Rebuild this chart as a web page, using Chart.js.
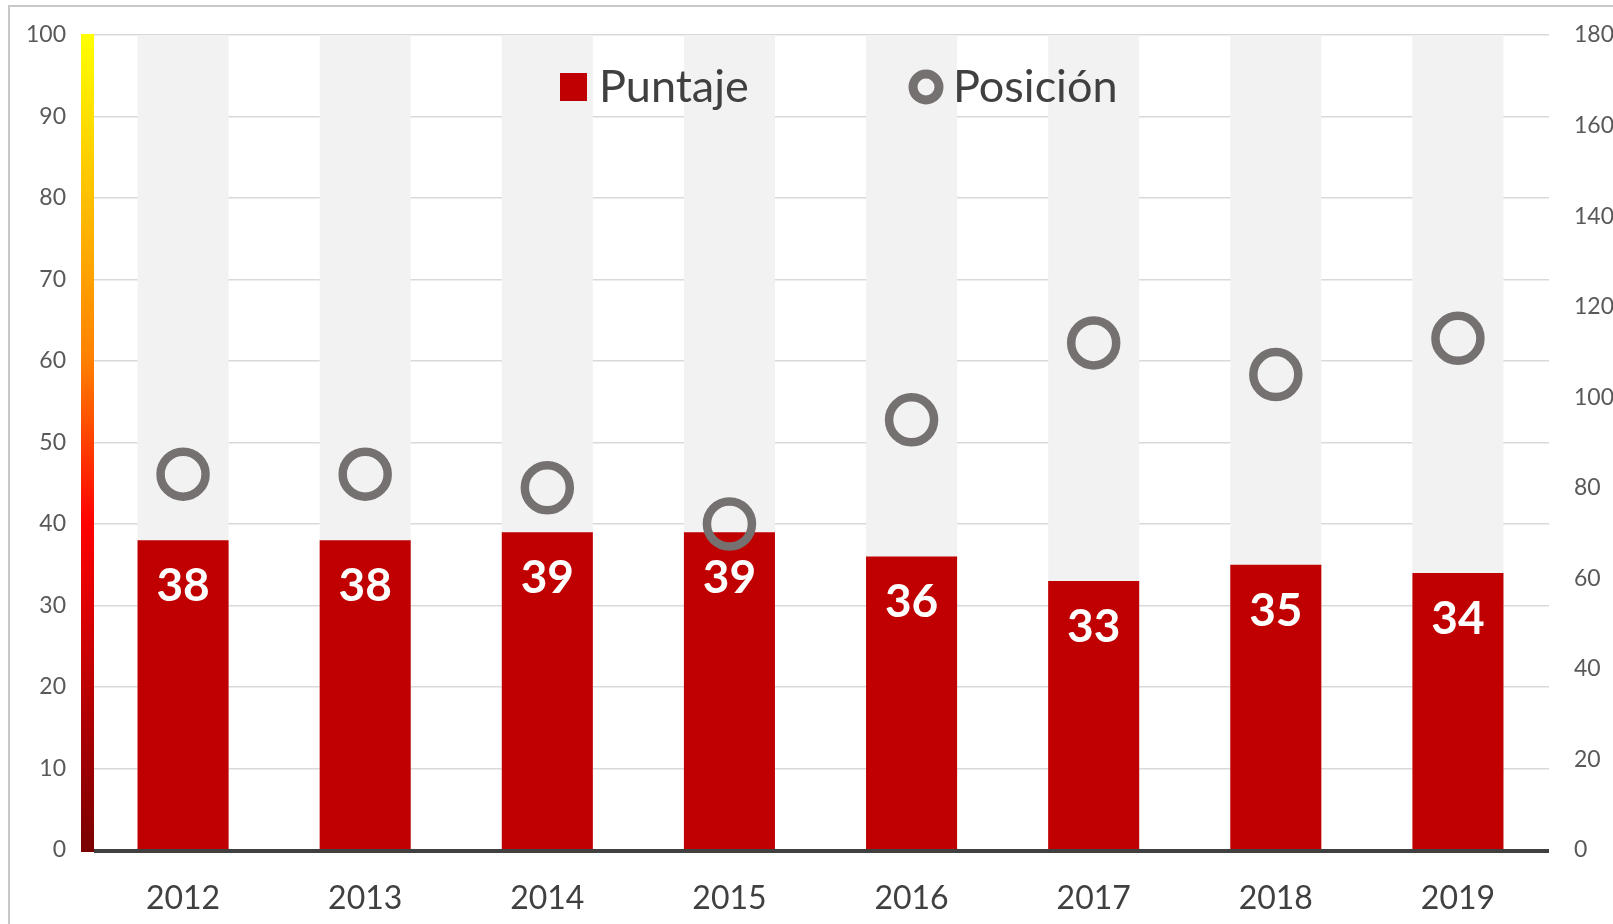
<!DOCTYPE html>
<html>
<head>
<meta charset="utf-8">
<script src="https://cdn.jsdelivr.net/npm/chart.js@4.4.1/dist/chart.umd.min.js"></script>
<style>
  html, body { margin: 0; padding: 0; background: #ffffff; }
  canvas { display: block; }
</style>
</head>
<body>
<canvas id="c" width="1613" height="924"></canvas>
<script>
// ---- data ----
const years = ['2012', '2013', '2014', '2015', '2016', '2017', '2018', '2019'];
const puntaje = [38, 38, 39, 39, 36, 33, 35, 34];
const posicion = [83, 83, 80, 72, 95, 112, 105, 113];
const leftTicks = [0, 10, 20, 30, 40, 50, 60, 70, 80, 90, 100];
const rightTicks = [0, 20, 40, 60, 80, 100, 120, 140, 160, 180];
const leftMax = 100;
const rightMax = 180;
const seriesNames = ['Puntaje', 'Posición'];

const FONT = 'Lato, "Open Sans", "DejaVu Sans", sans-serif';
const RED = '#C00000';
const RING = '#767171';

const framePlugin = {
  id: 'frame',
  beforeDraw(chart) {
    const ctx = chart.ctx;
    ctx.save();
    ctx.strokeStyle = '#C8C8C8';
    ctx.lineWidth = 2;
    ctx.strokeRect(9, 6, 1700, 1000);
    ctx.restore();
  },
  beforeDatasetsDraw(chart) {
    const ctx = chart.ctx;
    const y = chart.scales.y;
    const top = y.getPixelForValue(leftMax);
    const bot = y.getPixelForValue(0);
    const left = chart.chartArea.left;
    const g = ctx.createLinearGradient(0, top, 0, bot);
    g.addColorStop(0, '#FFFF00');
    g.addColorStop(0.4, '#FF8000');
    g.addColorStop(0.6, '#FF0000');
    g.addColorStop(1, '#7A0000');
    ctx.save();
    ctx.fillStyle = g;
    ctx.fillRect(left - 11, top - 1, 13, bot - top + 3);
    ctx.restore();
  },
  afterDatasetsDraw(chart) {
    const ctx = chart.ctx;
    const area = chart.chartArea;
    const y0 = chart.scales.y.getPixelForValue(0);
    ctx.save();
    ctx.strokeStyle = '#404040';
    ctx.lineWidth = 4;
    ctx.beginPath();
    ctx.moveTo(area.left + 2, y0 + 1);
    ctx.lineTo(area.right, y0 + 1);
    ctx.stroke();
    const meta = chart.getDatasetMeta(1);
    ctx.fillStyle = '#FFFFFF';
    ctx.font = 'bold 46px ' + FONT;
    ctx.textAlign = 'center';
    ctx.textBaseline = 'middle';
    meta.data.forEach((bar, i) => {
      ctx.fillText(String(puntaje[i]), bar.x, bar.y + 46);
    });
    ctx.restore();
  },
  afterDraw(chart) {
    const ctx = chart.ctx;
    ctx.save();
    ctx.font = '45px ' + FONT;
    ctx.textBaseline = 'middle';
    ctx.textAlign = 'left';
    const cy = 87;
    ctx.fillStyle = RED;
    ctx.fillRect(560, 73, 27, 28);
    ctx.fillStyle = '#404040';
    ctx.fillText(seriesNames[0], 599, cy);
    ctx.strokeStyle = RING;
    ctx.lineWidth = 9;
    ctx.beginPath();
    ctx.arc(926, cy, 13, 0, Math.PI * 2);
    ctx.stroke();
    ctx.fillText(seriesNames[1], 953, cy);
    ctx.restore();
  }
};

new Chart(document.getElementById('c'), {
  data: {
    labels: years,
    datasets: [
      {
        type: 'bar',
        label: 'fondo',
        data: years.map(() => leftMax),
        backgroundColor: '#F2F2F2',
        grouped: false,
        categoryPercentage: 1,
        barPercentage: 0.5,
        order: 3,
        yAxisID: 'y'
      },
      {
        type: 'bar',
        label: seriesNames[0],
        data: puntaje,
        backgroundColor: RED,
        grouped: false,
        categoryPercentage: 1,
        barPercentage: 0.5,
        order: 2,
        yAxisID: 'y'
      },
      {
        type: 'line',
        label: seriesNames[1],
        data: posicion,
        showLine: false,
        pointRadius: 22.5,
        pointHoverRadius: 22.5,
        pointBorderWidth: 8.5,
        pointHoverBorderWidth: 8.5,
        borderColor: RING,
        pointBackgroundColor: 'rgba(0,0,0,0)',
        backgroundColor: 'rgba(0,0,0,0)',
        order: 1,
        yAxisID: 'y1'
      }
    ]
  },
  options: {
    responsive: false,
    animation: false,
    layout: { padding: { top: 35, left: 0, right: 0, bottom: 0 } },
    plugins: {
      legend: { display: false },
      tooltip: { enabled: false }
    },
    scales: {
      x: {
        type: 'category',
        grid: { display: false, drawTicks: false },
        border: { display: false },
        ticks: {
          color: '#404040',
          font: { family: FONT, size: 32 },
          padding: 29,
          maxRotation: 0
        },
        afterFit(s) { s.height = 74; s.paddingLeft = 0; s.paddingRight = 0; }
      },
      y: {
        position: 'left',
        min: 0,
        max: leftMax,
        afterBuildTicks(s) { s.ticks = leftTicks.map(v => ({ value: v })); },
        grid: { color: '#D9D9D9', lineWidth: 1.5, drawTicks: false },
        border: { display: false },
        ticks: {
          color: '#595959',
          font: { family: FONT, size: 23 },
          padding: 26
        },
        afterFit(s) { s.width = 92; s.paddingTop = 0; s.paddingBottom = 0; }
      },
      y1: {
        position: 'right',
        min: 0,
        max: rightMax,
        afterBuildTicks(s) { s.ticks = rightTicks.map(v => ({ value: v })); },
        grid: { display: false, drawTicks: false },
        border: { display: false },
        ticks: {
          color: '#595959',
          font: { family: FONT, size: 23 },
          padding: 25
        },
        afterFit(s) { s.width = 64; s.paddingTop = 0; s.paddingBottom = 0; }
      }
    }
  },
  plugins: [framePlugin]
});
</script>
</body>
</html>
